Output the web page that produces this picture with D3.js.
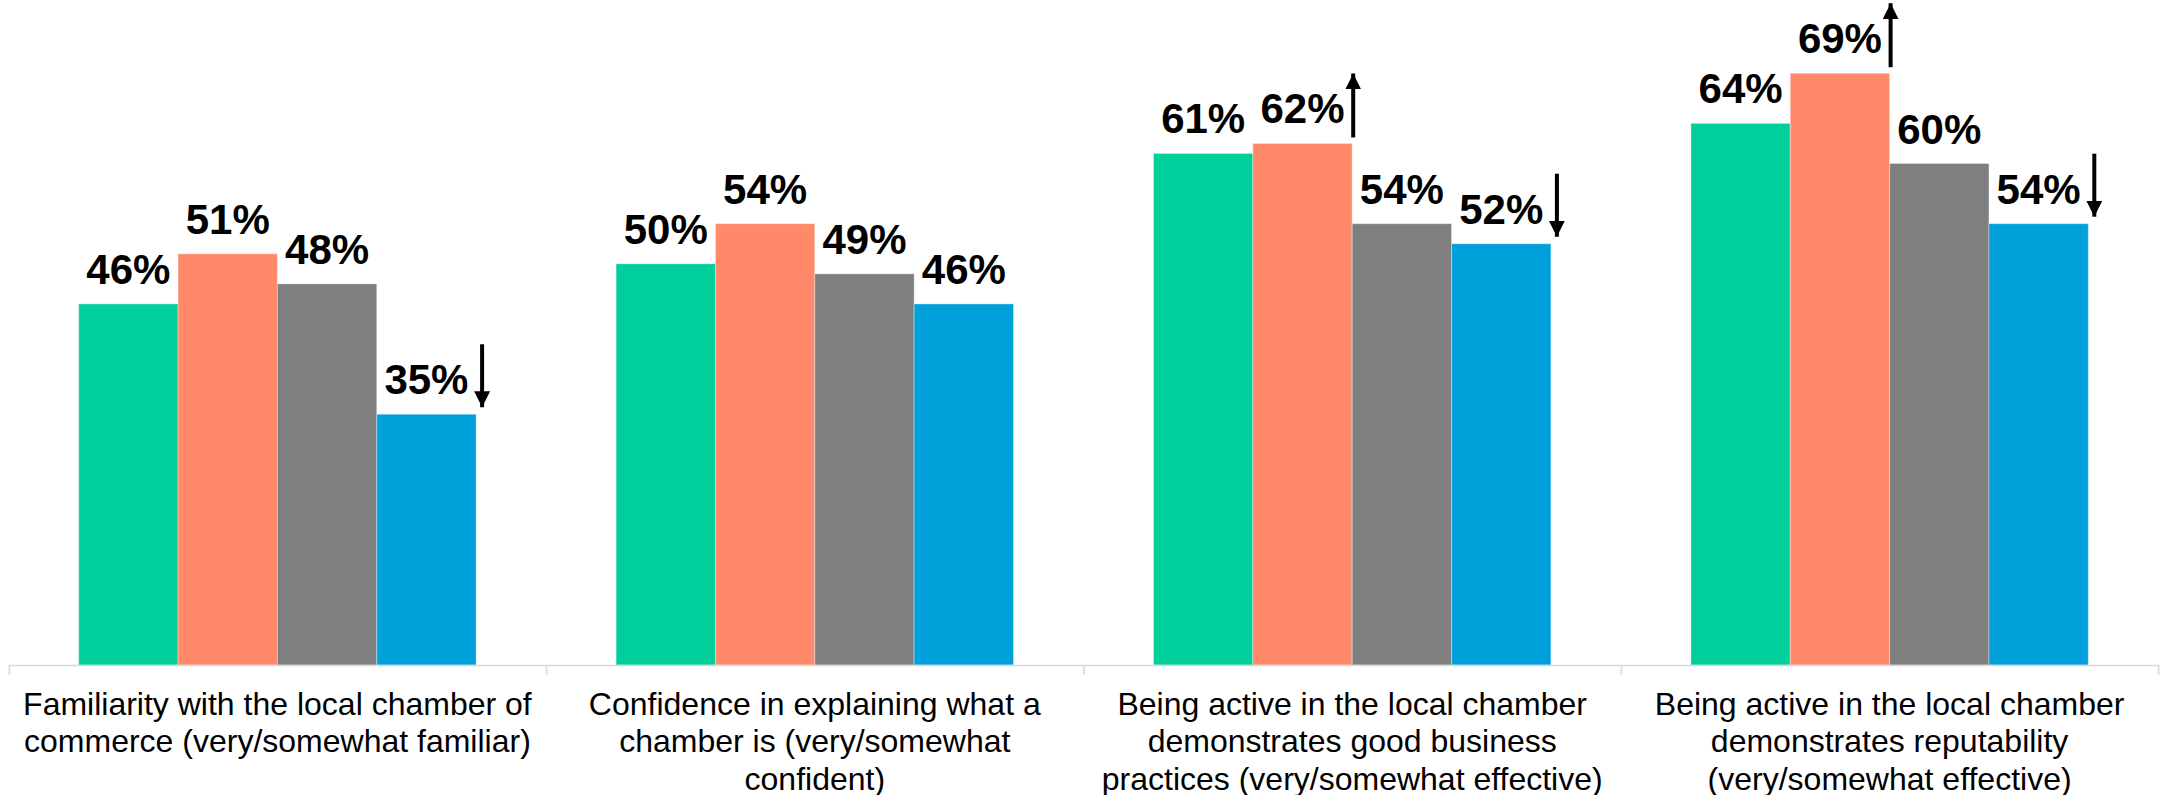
<!DOCTYPE html>
<html>
<head>
<meta charset="utf-8">
<script src="https://cdn.jsdelivr.net/npm/d3@7/dist/d3.min.js"></script>
<style>
  html, body { margin: 0; padding: 0; background: #ffffff; }
  svg { display: block; }
  text { font-family: "Liberation Sans", Arial, Helvetica, sans-serif; fill: #000; }
</style>
</head>
<body>
<svg id="chart" width="2160" height="795"></svg>
<script>
// Category labels, one array of lines per category
const categoryLines = [
  ["Familiarity with the local chamber of", "commerce (very/somewhat familiar)"],
  ["Confidence in explaining what a", "chamber is (very/somewhat", "confident)"],
  ["Being active in the local chamber", "demonstrates good business", "practices (very/somewhat effective)"],
  ["Being active in the local chamber", "demonstrates reputability", "(very/somewhat effective)"]
];

// Series values (percent)
const seriesKeys = ["s1", "s2", "s3", "s4"];
const valuesS1 = [46, 50, 61, 64];
const valuesS2 = [51, 54, 62, 69];
const valuesS3 = [48, 49, 54, 60];
const valuesS4 = [35, 46, 52, 54];

// Significant change markers: 1 = up, -1 = down, 0 = none
const trendS1 = [0, 0, 0, 0];
const trendS2 = [0, 0, 1, 1];
const trendS3 = [0, 0, 0, 0];
const trendS4 = [-1, 0, -1, -1];

const seriesColors = ["#00cf9b", "#ff8969", "#7f7f7f", "#00a0db"];

const seriesValues = [valuesS1, valuesS2, valuesS3, valuesS4];
const seriesTrends = [trendS1, trendS2, trendS3, trendS4];

const svg = d3.select("#chart");

const plotLeft = 8.7, plotRight = 2158.3, baseY = 665;
const catKeys = categoryLines.map((d, i) => i);

const x0 = d3.scaleBand().domain(catKeys).range([plotLeft, plotRight]).padding(0);
const groupPad = 70;
const x1 = d3.scaleBand().domain(seriesKeys)
  .range([groupPad, x0.bandwidth() - groupPad]).padding(0);
const y = d3.scaleLinear().domain([10, 70]).range([baseY, baseY - 601.8]);
const color = d3.scaleOrdinal().domain(seriesKeys).range(seriesColors);

// flatten into bar records
const bars = [];
catKeys.forEach(c => {
  seriesKeys.forEach((s, si) => {
    bars.push({ cat: c, key: s, value: seriesValues[si][c], trend: seriesTrends[si][c] });
  });
});

const g = svg.append("g");

// bars
g.selectAll("rect.bar").data(bars).join("rect")
  .attr("class", "bar")
  .attr("x", d => x0(d.cat) + x1(d.key))
  .attr("y", d => y(d.value))
  .attr("width", x1.bandwidth())
  .attr("height", d => baseY - y(d.value))
  .attr("fill", d => color(d.key))
  .attr("stroke", "#ffffff")
  .attr("stroke-opacity", 0.35)
  .attr("stroke-width", 1);

// category axis: baseline with boundary ticks
const boundary = d3.scaleLinear().domain([0, categoryLines.length]).range([plotLeft, plotRight]);
const axis = svg.append("g")
  .attr("transform", `translate(0,${baseY})`)
  .call(d3.axisBottom(boundary).tickValues(d3.range(categoryLines.length + 1))
    .tickSize(10).tickSizeOuter(0).tickFormat(""));
axis.select(".domain").attr("stroke", "#d9d9d9").attr("stroke-width", 1.5);
axis.selectAll(".tick line").attr("stroke", "#d9d9d9").attr("stroke-width", 1.5);

// category labels
svg.append("g").selectAll("text.cat").data(catKeys).join("text")
  .attr("class", "cat")
  .attr("text-anchor", "middle")
  .attr("font-size", 32)
  .attr("x", c => x0(c) + x0.bandwidth() / 2)
  .attr("y", 714.5)
  .each(function (c) {
    const t = d3.select(this);
    categoryLines[c].forEach((line, i) => {
      t.append("tspan")
        .attr("x", x0(c) + x0.bandwidth() / 2)
        .attr("dy", i === 0 ? 0 : 37.5)
        .text(line);
    });
  });

// value labels
g.selectAll("text.val").data(bars).join("text")
  .attr("class", "val")
  .attr("text-anchor", "middle")
  .attr("font-size", 42)
  .attr("font-weight", "bold")
  .attr("x", d => x0(d.cat) + x1(d.key) + x1.bandwidth() / 2)
  .attr("y", d => y(d.value) - 20)
  .text(d => d.value + "%");

// change arrows
svg.append("defs").append("marker")
  .attr("id", "head")
  .attr("viewBox", "0 0 10 10")
  .attr("refX", 10).attr("refY", 5)
  .attr("markerUnits", "userSpaceOnUse")
  .attr("markerWidth", 16).attr("markerHeight", 16)
  .attr("orient", "auto")
  .append("path").attr("d", "M0,0 L10,5 L0,10 Z").attr("fill", "#000");

const arrows = bars.filter(d => d.trend !== 0);
g.selectAll("line.arrow").data(arrows).join("line")
  .attr("class", "arrow")
  .attr("stroke", "#000")
  .attr("stroke-width", 4)
  .attr("marker-end", "url(#head)")
  .attr("x1", d => x0(d.cat) + x1(d.key) + x1.bandwidth() + (d.trend > 0 ? 1 : 6))
  .attr("x2", d => x0(d.cat) + x1(d.key) + x1.bandwidth() + (d.trend > 0 ? 1 : 6))
  .attr("y1", d => d.trend > 0 ? y(d.value) - 6 : y(d.value) - 70)
  .attr("y2", d => d.trend > 0 ? y(d.value) - 70 : y(d.value) - 7);
</script>
</body>
</html>
